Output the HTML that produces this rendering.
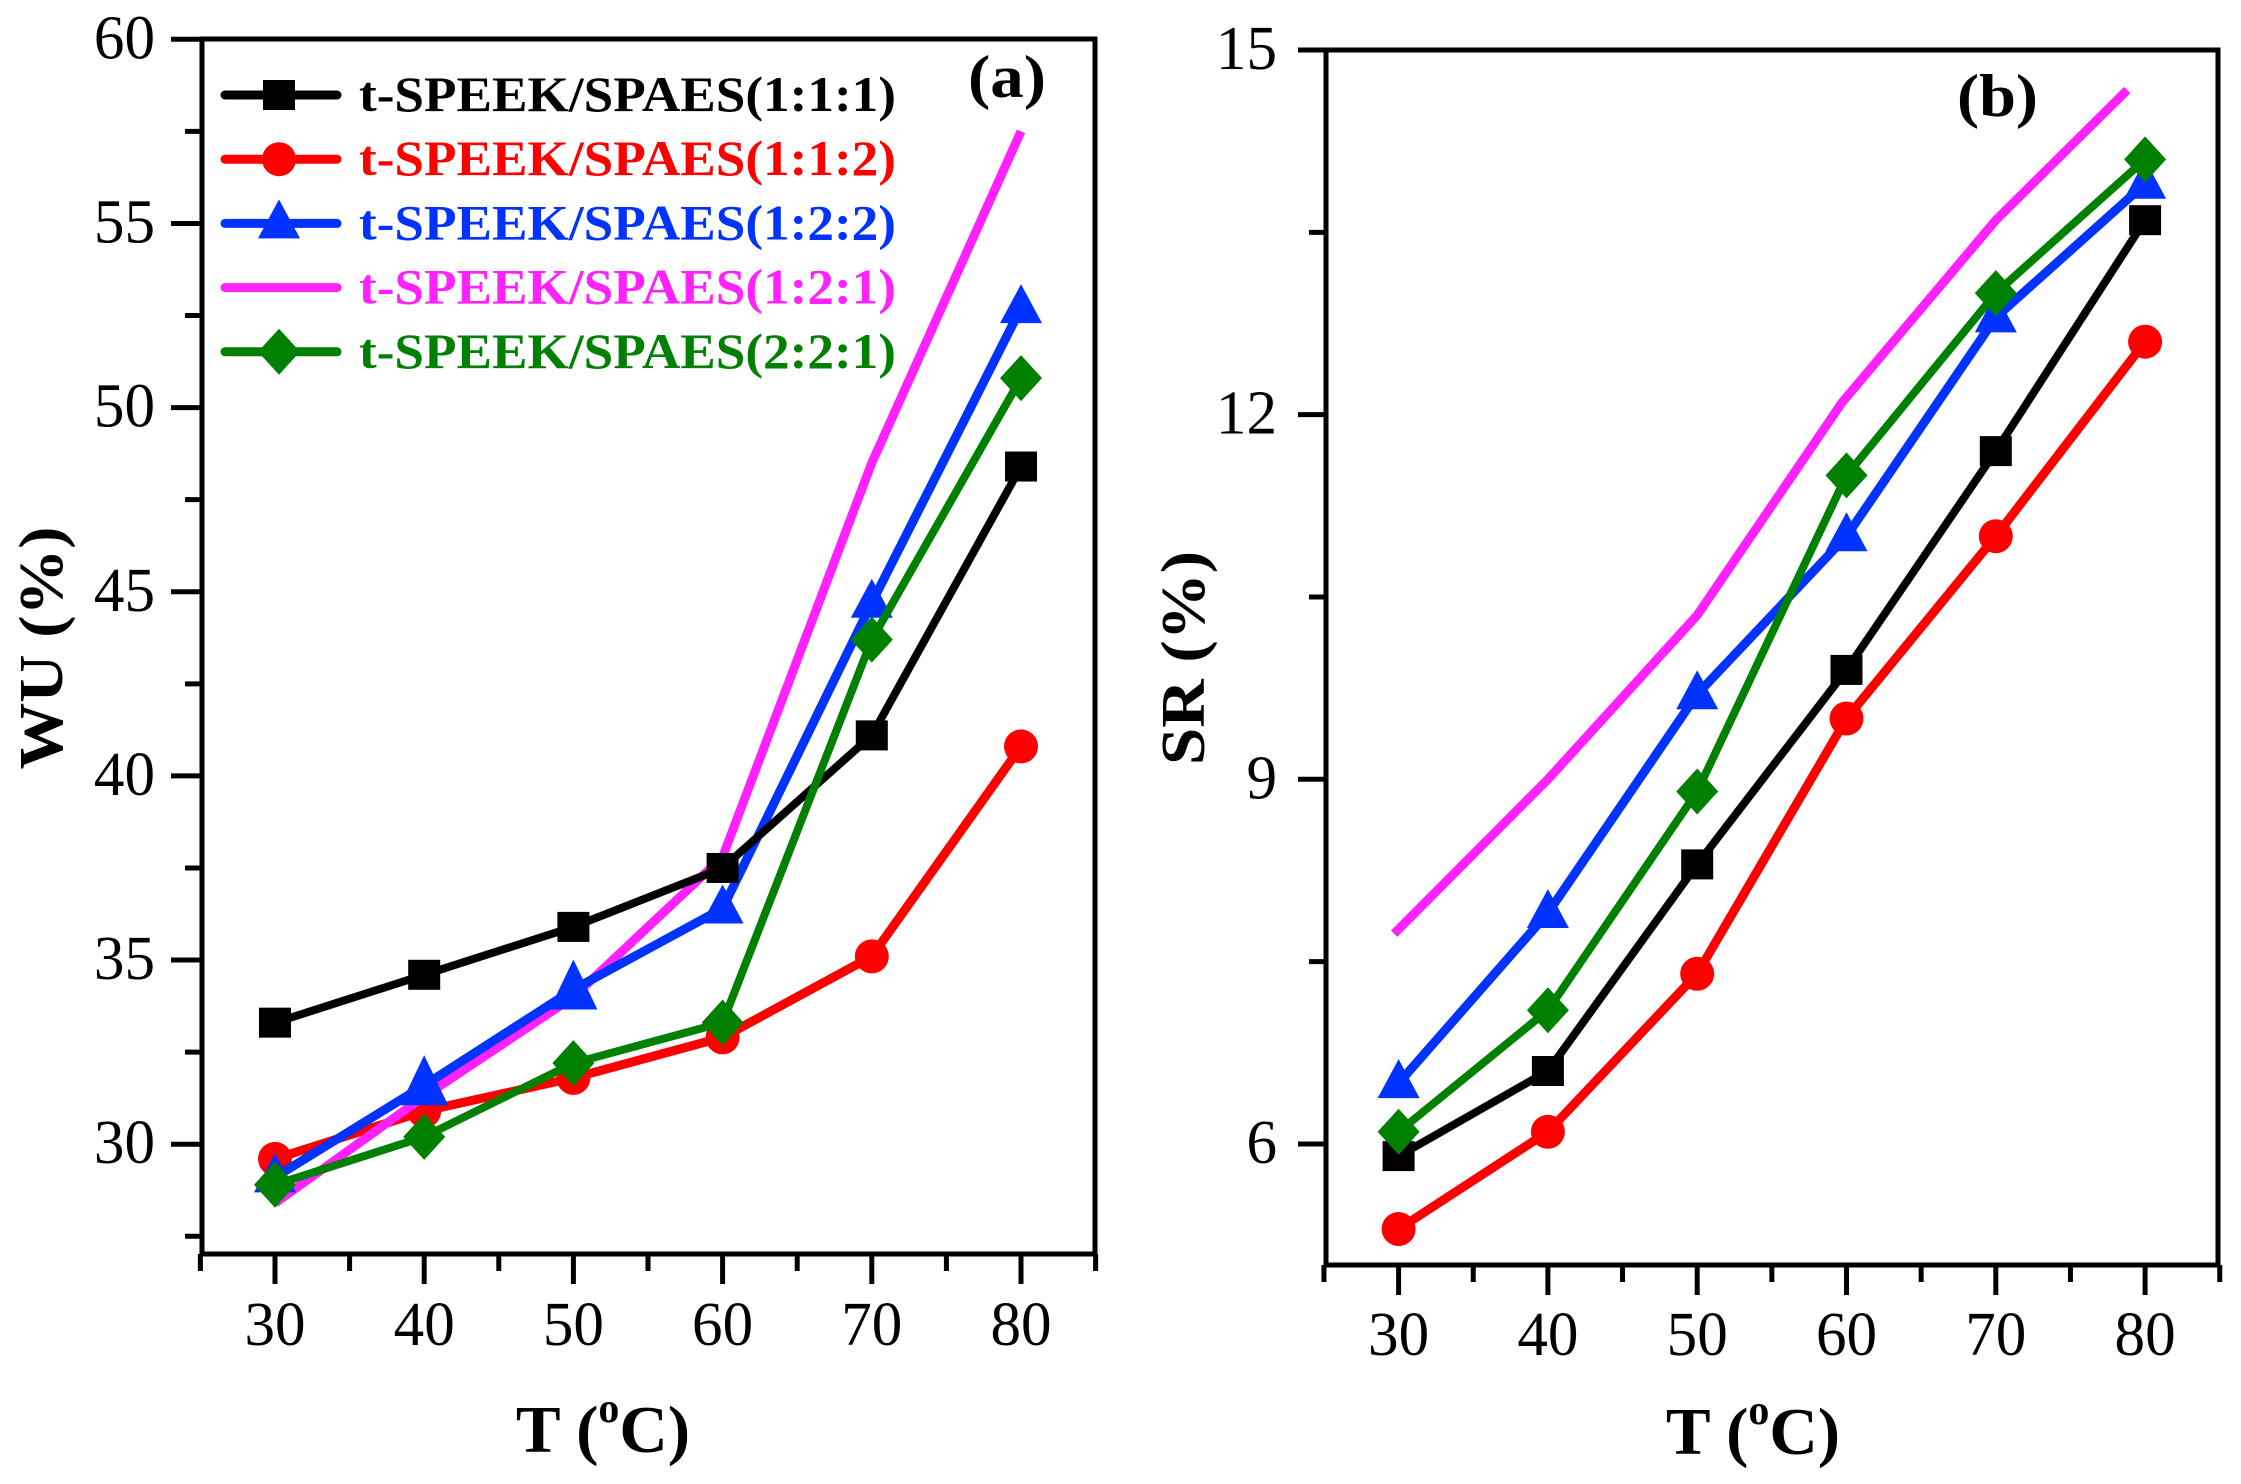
<!DOCTYPE html>
<html lang="en">
<head>
<meta charset="utf-8">
<title>WU and SR versus temperature</title>
<style>
html,body{margin:0;padding:0;background:#fff;}
svg{display:block;}
text{font-family:"Liberation Serif",serif;fill:#000;}
</style>
</head>
<body>
<svg id="figure" xmlns="http://www.w3.org/2000/svg" width="2241" height="1484" viewBox="0 0 2241 1484"></svg>
<script>
var temperatures = [30, 40, 50, 60, 70, 80];
var xTickLabels = ["30", "40", "50", "60", "70", "80"];
var seriesLabels = ["t-SPEEK/SPAES(1:1:1)", "t-SPEEK/SPAES(1:1:2)", "t-SPEEK/SPAES(1:2:2)", "t-SPEEK/SPAES(1:2:1)", "t-SPEEK/SPAES(2:2:1)"];

var wuBlack = [33.3, 34.6, 35.9, 37.5, 41.1, 48.4];
var wuRed = [29.6, 30.9, 31.8, 32.9, 35.1, 40.8];
var wuBlue = [29.1, 31.6, 34.2, 36.4, 44.7, 52.7];
var wuMagenta = [28.4, 31.3, 34.0, 37.8, 48.5, 57.5];
var wuGreen = [28.9, 30.2, 32.2, 33.3, 43.7, 50.8];
var wuTicks = [30, 35, 40, 45, 50, 55, 60];
var wuMinorTicks = [27.5, 32.5, 37.5, 42.5, 47.5, 52.5, 57.5];

var srBlack = [5.9, 6.6, 8.3, 9.9, 11.7, 13.6];
var srRed = [5.3, 6.1, 7.4, 9.5, 11.0, 12.6];
var srBlue = [6.5, 7.9, 9.7, 11.0, 12.8, 13.9];
var srMagenta = [7.73, 9.0, 10.35, 12.1, 13.6, 14.67];
var srMagentaTemps = [29.7, 40, 50, 59.7, 70, 78.8];
var srGreen = [6.1, 7.1, 8.9, 11.5, 13.0, 14.1];
var srTicks = [6, 9, 12, 15];
var srMinorTicks = [7.5, 10.5, 13.5];

var NS = "http://www.w3.org/2000/svg";
var root = document.getElementById("figure");
var COLORS = {black:"#000000", red:"#ff0000", blue:"#0033ff", magenta:"#ff22ff", green:"#008000"};

function mk(tag, attrs, parent) {
  var el = document.createElementNS(NS, tag);
  for (var k in attrs) el.setAttribute(k, attrs[k]);
  parent.appendChild(el);
  return el;
}

function marker(kind, cx, cy, color, big, parent) {
  var el;
  if (kind === "square") {
    el = mk("rect", {x: cx - 16, y: cy - 15, width: 32, height: 30, fill: color}, parent);
  } else if (kind === "circle") {
    el = mk("ellipse", {cx: cx, cy: cy, rx: 17, ry: 17, fill: color}, parent);
  } else if (kind === "triangle") {
    var w = big ? 24 : 21, top = big ? 30 : 24, bot = big ? 20 : 15;
    el = mk("polygon", {points: (cx) + "," + (cy - top) + " " + (cx + w) + "," + (cy + bot) + " " + (cx - w) + "," + (cy + bot), fill: color}, parent);
  } else {
    el = mk("polygon", {points: cx + "," + (cy - 23) + " " + (cx + 21) + "," + cy + " " + cx + "," + (cy + 23) + " " + (cx - 21) + "," + cy, fill: color}, parent);
  }
  return el;
}

function drawPanel(p) {
  var g = mk("g", {}, root);
  
  

  function X(v) { return p.x30 + (v - 30) * p.dx; }
  function Y(v) { return p.yBase + (p.vBase - v) * p.dy; }

  var frame = mk("rect", {x: p.left, y: p.top, width: p.right - p.left, height: p.bottom - p.top, fill: "none", stroke: "#000", "stroke-width": 5}, g);
  
  

  // y ticks
  p.yTicks.forEach(function (v) {
    var t = mk("line", {x1: p.left, x2: p.left - p.majorLen, y1: Y(v), y2: Y(v), stroke: "#000", "stroke-width": 5}, g);
    
    
    var lx = mk("text", {transform: "translate(" + p.yLabelRight + "," + (Y(v) + 19) + ") scale(0.97,1)", "text-anchor": "end", "font-size": 63}, g);
    lx.textContent = String(v);
    
    
  });
  p.yMinor.forEach(function (v) {
    var t = mk("line", {x1: p.left, x2: p.left - 17, y1: Y(v), y2: Y(v), stroke: "#000", "stroke-width": 5}, g);
    
    
  });

  // x ticks
  temperatures.forEach(function (v, i) {
    var t = mk("line", {x1: X(v), x2: X(v), y1: p.bottom, y2: p.bottom + 30, stroke: "#000", "stroke-width": 5}, g);
    
    
    var lb = mk("text", {transform: "translate(" + X(v) + "," + p.xLabelBase + ") scale(0.97,1)", "text-anchor": "middle", "font-size": 63}, g);
    lb.textContent = xTickLabels[i];
    
    
    var m = mk("line", {x1: X(v - 5), x2: X(v - 5), y1: p.bottom, y2: p.bottom + 17, stroke: "#000", "stroke-width": 5}, g);
    
    
  });
  var lastMinor = mk("line", {x1: X(85), x2: X(85), y1: p.bottom, y2: p.bottom + 17, stroke: "#000", "stroke-width": 5}, g);
  
  

  // series
  p.series.forEach(function (s) {
    var sg = mk("g", {}, g);
    
    
    var xs = s.temps || temperatures;
    var pts = s.values.map(function (v, i) { return X(xs[i]) + "," + Y(v); }).join(" ");
    var line = mk("polyline", {points: pts, fill: "none", stroke: s.color, "stroke-width": s.width, "stroke-linejoin": "round", "stroke-linecap": "butt"}, sg);
    
    
    if (s.marker) {
      s.values.forEach(function (v, i) {
        var big = p.id === "wu" && s.marker === "triangle" && (i === 1 || i === 2);
        var mEl = marker(s.marker, X(xs[i]), Y(v), s.color, big, sg);
        
        
      });
    }
  });

  // axis titles
  var yt = mk("text", {transform: "translate(" + p.yTitleX + "," + p.yTitleY + ") rotate(-90)", "text-anchor": "middle", "font-size": 62, "font-weight": "bold", textLength: p.yTitleLen, lengthAdjust: "spacingAndGlyphs"}, g);
  yt.textContent = p.yTitle;
  
  

  var xt = mk("text", {x: p.xTitleX, y: p.xTitleBase, "text-anchor": "middle", "font-size": 67, "font-weight": "bold"}, g);
  
  
  var t1 = mk("tspan", {}, xt);
  t1.textContent = "T (";
  var t2 = mk("tspan", {dy: -30, "font-size": 42}, xt);
  t2.textContent = "o";
  var t3 = mk("tspan", {dy: 30}, xt);
  t3.textContent = "C)";

  var tag = mk("text", {x: p.tagX, y: p.tagY, "font-size": 60, "font-weight": "bold", textLength: p.tagLen, lengthAdjust: "spacingAndGlyphs"}, g);
  tag.textContent = p.tag;
  
  
}

drawPanel({
  id: "wu", left: 202, right: 1095, top: 39, bottom: 1254,
  x30: 275, dx: 14.92, yBase: 39.3, vBase: 60, dy: 36.83,
  majorLen: 31, yLabelRight: 155, xLabelBase: 1345,
  yTicks: wuTicks, yMinor: wuMinorTicks,
  yTitle: "WU (%)", yTitleX: 62, yTitleY: 648, yTitleLen: 243,
  xTitleX: 603, xTitleBase: 1452,
  tag: "(a)", tagX: 968, tagY: 97, tagLen: 78,
  series: [
    {name: "1-1-2", values: wuRed, color: COLORS.red, width: 9, marker: "circle"},
    {name: "1-2-1", values: wuMagenta, color: COLORS.magenta, width: 9, marker: null},
    {name: "1-2-2", values: wuBlue, color: COLORS.blue, width: 9, marker: "triangle"},
    {name: "1-1-1", values: wuBlack, color: COLORS.black, width: 8, marker: "square"},
    {name: "2-2-1", values: wuGreen, color: COLORS.green, width: 8, marker: "diamond"}
  ]
});

drawPanel({
  id: "sr", left: 1326, right: 2218, top: 50, bottom: 1265,
  x30: 1398.6, dx: 14.93, yBase: 50, vBase: 15, dy: 121.55,
  majorLen: 28, yLabelRight: 1277, xLabelBase: 1355,
  yTicks: srTicks, yMinor: srMinorTicks,
  yTitle: "SR (%)", yTitleX: 1204, yTitleY: 658, yTitleLen: 214,
  xTitleX: 1753, xTitleBase: 1454,
  tag: "(b)", tagX: 1957, tagY: 116, tagLen: 81,
  series: [
    {name: "1-1-2", values: srRed, color: COLORS.red, width: 9, marker: "circle"},
    {name: "1-2-1", values: srMagenta, temps: srMagentaTemps, color: COLORS.magenta, width: 9, marker: null},
    {name: "1-2-2", values: srBlue, color: COLORS.blue, width: 9, marker: "triangle"},
    {name: "1-1-1", values: srBlack, color: COLORS.black, width: 8, marker: "square"},
    {name: "2-2-1", values: srGreen, color: COLORS.green, width: 8, marker: "diamond"}
  ]
});

// legend
var legendColors = [COLORS.black, COLORS.red, COLORS.blue, COLORS.magenta, COLORS.green];
var legendMarkers = ["square", "circle", "triangle", null, "diamond"];
var legend = mk("g", {}, root);


seriesLabels.forEach(function (label, i) {
  var cy = 95 + i * 64.2;
  var entry = mk("g", {}, legend);
  
  
  var ln = mk("line", {x1: 225, x2: 337, y1: cy, y2: cy, stroke: legendColors[i], "stroke-width": 9, "stroke-linecap": "round"}, entry);
  
  
  if (legendMarkers[i]) {
    var m = marker(legendMarkers[i], 279, cy, legendColors[i], false, entry);
    
    
  }
  var tx = mk("text", {x: 359, y: cy + 16, "font-size": 50, "font-weight": "bold", textLength: 537, lengthAdjust: "spacingAndGlyphs", style: "fill:" + legendColors[i]}, entry);
  tx.textContent = label;
  
  
});
</script>
</body>
</html>
